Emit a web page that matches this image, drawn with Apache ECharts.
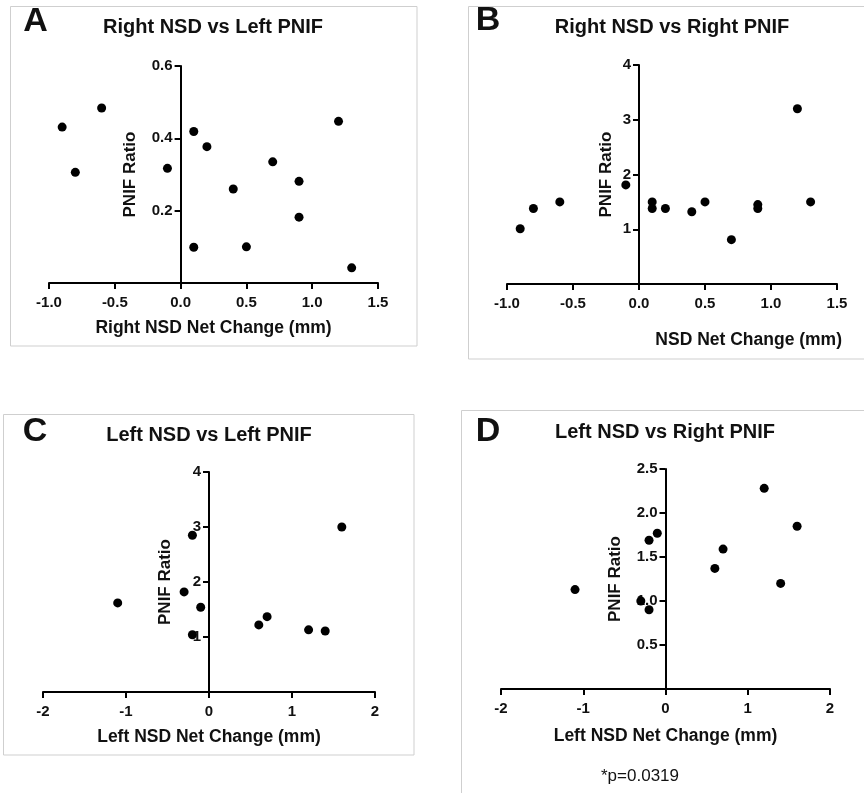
<!DOCTYPE html>
<html>
<head>
<meta charset="utf-8">
<script src="https://cdn.jsdelivr.net/npm/echarts@6/dist/echarts.min.js"></script>
<style>
html,body{margin:0;padding:0;background:#fff;}
#chart{width:864px;height:793px;}
</style>
</head>
<body>
<div id="chart"></div>
<script>
// ---- Data ----
const titles = ['Right NSD vs Left PNIF', 'Right NSD vs Right PNIF', 'Left NSD vs Left PNIF', 'Left NSD vs Right PNIF'];
const panelLetters = ['A', 'B', 'C', 'D'];
const xNames = ['Right NSD Net Change (mm)', 'NSD Net Change (mm)', 'Left NSD Net Change (mm)', 'Left NSD Net Change (mm)'];
const yName = 'PNIF Ratio';
const pNote = '*p=0.0319';

const aX = [-0.9, -0.8, -0.6, -0.1, 0.1, 0.1, 0.2, 0.4, 0.5, 0.7, 0.9, 0.9, 1.2, 1.3];
const aY = [0.431, 0.306, 0.484, 0.317, 0.419, 0.099, 0.377, 0.26, 0.1, 0.335, 0.281, 0.182, 0.447, 0.042];

const bX = [-0.9, -0.8, -0.6, -0.1, 0.1, 0.1, 0.2, 0.4, 0.5, 0.7, 0.9, 0.9, 1.2, 1.3];
const bY = [1.01, 1.38, 1.5, 1.81, 1.5, 1.38, 1.38, 1.32, 1.5, 0.81, 1.45, 1.38, 3.2, 1.5];

const cX = [-1.1, -0.3, -0.2, -0.1, -0.2, 0.6, 0.7, 1.2, 1.4, 1.6];
const cY = [1.62, 1.82, 2.85, 1.54, 1.04, 1.22, 1.37, 1.13, 1.11, 3.0];

const dX = [-1.1, -0.3, -0.2, -0.2, -0.1, 0.6, 0.7, 1.2, 1.4, 1.6];
const dY = [1.13, 1.0, 0.9, 1.69, 1.77, 1.37, 1.59, 2.28, 1.2, 1.85];

// axis ranges
const xMin = [-1, -1, -2, -2], xMax = [1.5, 1.5, 2, 2], xStep = [0.5, 0.5, 1, 1];
const yMin = [0, 0, 0, 0], yMax = [0.6, 4, 4, 2.5], yStep = [0.2, 1, 1, 0.5];
const xDec = [1, 1, 0, 0], yDec = [1, 0, 0, 1];

// ---- Layout ----
const FONT = '"Liberation Sans", Arial, Helvetica, sans-serif';
const grids = [
  {left: 49, top: 66, width: 329, height: 217},
  {left: 507, top: 65, width: 330, height: 219},
  {left: 43, top: 472, width: 332, height: 220},
  {left: 501, top: 469, width: 329, height: 220}
];
const yNameGap = [42, 24, 35, 42];
const xNameGap = [36, 0, 36, 38];
const series = [[aX, aY], [bX, bY], [cX, cY], [dX, dY]];

const chart = echarts.init(document.getElementById('chart'), null, {renderer: 'canvas'});

const axisTick = {show: true, inside: false, length: 6, lineStyle: {color: '#000', width: 2}};

const option = {
  animation: false,
  backgroundColor: '#fff',
  grid: grids.map(g => Object.assign({containLabel: false, outerBoundsMode: 'none'}, g)),
  xAxis: grids.map((g, i) => ({
    type: 'value', gridIndex: i,
    min: xMin[i], max: xMax[i], interval: xStep[i],
    name: i === 1 ? '' : xNames[i],
    nameLocation: 'middle', nameGap: xNameGap[i],
    nameTextStyle: {fontFamily: FONT, fontWeight: 'bold', fontSize: 17.5, color: '#111'},
    axisLine: {show: true, onZero: false, lineStyle: {color: '#000', width: 2}},
    axisTick: axisTick,
    splitLine: {show: false},
    axisLabel: {fontFamily: FONT, fontWeight: 'bold', fontSize: 15, color: '#111', margin: 12,
      formatter: v => v.toFixed(xDec[i]), showMinLabel: true, showMaxLabel: true}
  })),
  yAxis: grids.map((g, i) => ({
    type: 'value', gridIndex: i,
    min: yMin[i], max: yMax[i], interval: yStep[i],
    // place the y axis at x = 0 of the x scale
    offset: -g.width * (0 - xMin[i]) / (xMax[i] - xMin[i]),
    name: yName, nameLocation: 'middle', nameGap: yNameGap[i], nameRotate: 90,
    nameTextStyle: {fontFamily: FONT, fontWeight: 'bold', fontSize: 17, color: '#111'},
    axisLine: {show: true, onZero: false, lineStyle: {color: '#000', width: 2}},
    axisTick: axisTick,
    splitLine: {show: false},
    axisLabel: {fontFamily: FONT, fontWeight: 'bold', fontSize: 15, color: '#111', margin: 8,
      formatter: v => (Math.abs(v) < 1e-9 ? '' : v.toFixed(yDec[i])), showMinLabel: true, showMaxLabel: true}
  })),
  series: series.map((s, i) => ({
    type: 'scatter', xAxisIndex: i, yAxisIndex: i,
    symbol: 'circle', symbolSize: 9,
    itemStyle: {color: '#000', opacity: 1},
    data: s[0].map((x, k) => [x, s[1][k]])
  })),
  graphic: [
    // panel boxes
    {type: 'rect', shape: {x: 10.5, y: 6.5, width: 406.5, height: 339.5}, style: {fill: 'none', stroke: '#cfcfcf', lineWidth: 1}, silent: true},
    {type: 'rect', shape: {x: 468.5, y: 6.5, width: 420, height: 352.5}, style: {fill: 'none', stroke: '#cfcfcf', lineWidth: 1}, silent: true},
    {type: 'rect', shape: {x: 3.5, y: 414.5, width: 410.5, height: 340.5}, style: {fill: 'none', stroke: '#cfcfcf', lineWidth: 1}, silent: true},
    {type: 'rect', shape: {x: 461.5, y: 410.5, width: 420, height: 420}, style: {fill: 'none', stroke: '#cfcfcf', lineWidth: 1}, silent: true},
    // panel letters
    {type: 'text', x: 35.5, y: 22, style: {text: panelLetters[0], font: 'bold 34px ' + FONT, fill: '#111', align: 'center', verticalAlign: 'middle'}},
    {type: 'text', x: 488, y: 21, style: {text: panelLetters[1], font: 'bold 34px ' + FONT, fill: '#111', align: 'center', verticalAlign: 'middle'}},
    {type: 'text', x: 35, y: 432, style: {text: panelLetters[2], font: 'bold 34px ' + FONT, fill: '#111', align: 'center', verticalAlign: 'middle'}},
    {type: 'text', x: 488, y: 432, style: {text: panelLetters[3], font: 'bold 34px ' + FONT, fill: '#111', align: 'center', verticalAlign: 'middle'}},
    // titles
    {type: 'text', x: 213, y: 27, style: {text: titles[0], font: 'bold 20px ' + FONT, fill: '#111', align: 'center', verticalAlign: 'middle'}},
    {type: 'text', x: 672, y: 27, style: {text: titles[1], font: 'bold 20px ' + FONT, fill: '#111', align: 'center', verticalAlign: 'middle'}},
    {type: 'text', x: 209, y: 435, style: {text: titles[2], font: 'bold 20px ' + FONT, fill: '#111', align: 'center', verticalAlign: 'middle'}},
    {type: 'text', x: 665, y: 432, style: {text: titles[3], font: 'bold 20px ' + FONT, fill: '#111', align: 'center', verticalAlign: 'middle'}},
    // B x-axis name (offset to the right in the original)
    {type: 'text', x: 842, y: 340, style: {text: xNames[1], font: 'bold 17.5px ' + FONT, fill: '#111', align: 'right', verticalAlign: 'middle'}},
    // p-value note
    {type: 'text', x: 640, y: 776, style: {text: pNote, font: '17px ' + FONT, fill: '#111', align: 'center', verticalAlign: 'middle'}}
  ]
};
chart.setOption(option);
</script>
</body>
</html>
